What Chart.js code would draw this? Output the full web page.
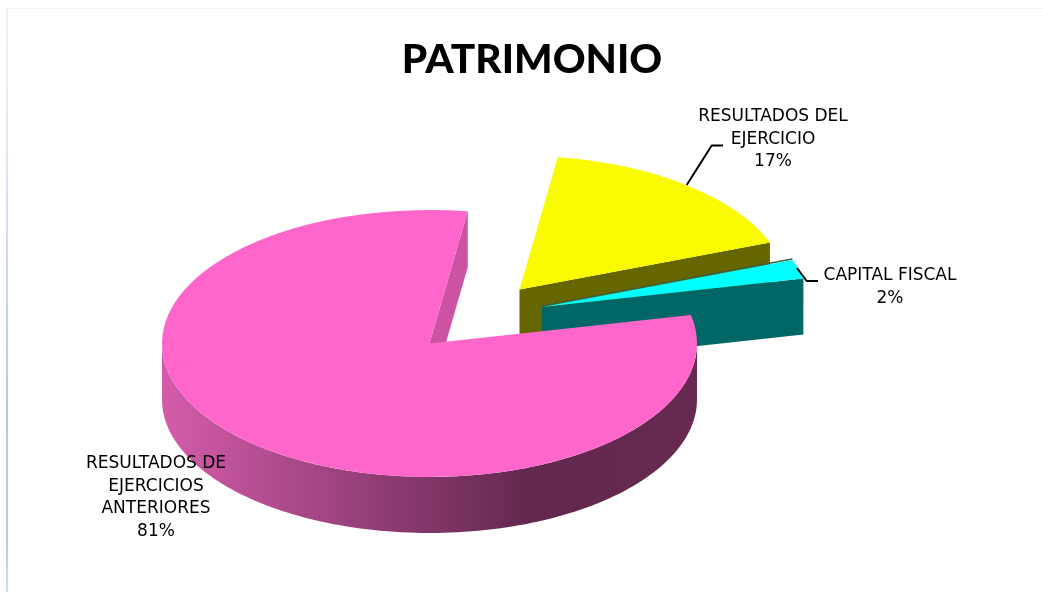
<!DOCTYPE html>
<html>
<head>
<meta charset="utf-8">
<style>
html,body{margin:0;padding:0;background:#fff;width:1042px;height:592px;overflow:hidden}
#wrap{position:relative;width:1042px;height:592px}
#frameL{position:absolute;left:6px;top:8px;width:2px;height:584px;background:linear-gradient(#eef2fa,#e2eaf6 20%,#b4c8e8 68%,#b6cbe8 92%,#cfe0ee)}
#frameT{position:absolute;left:6px;top:8px;width:1036px;height:1px;background:#f3f5fb}
canvas{position:absolute;left:0;top:0}
</style>
<script src="https://cdn.jsdelivr.net/npm/chart.js@4"></script>
</head>
<body>
<div id="wrap"><div id="frameL"></div><div id="frameT"></div><canvas id="c" width="1042" height="592"></canvas></div>
<script>
const chartTitle = 'PATRIMONIO';
const categories = ['RESULTADOS DE EJERCICIOS ANTERIORES', 'RESULTADOS DEL EJERCICIO', 'CAPITAL FISCAL'];
const shareValues = [80.7, 17, 2.3];
const labelLines = [['RESULTADOS DE', 'EJERCICIOS', 'ANTERIORES'], ['RESULTADOS DEL', 'EJERCICIO'], ['CAPITAL FISCAL']];
const topColors = ['#FF66CC', '#FAFA00', '#00FFFF'];
const sideColors = ['#CC52A3', '#666600', '#006666'];

const CX = 429.5, CY = 343.5, RX = 267.5, RY = 133.5, DEPTH = 56;
const sliceShift = [[0, 0], [90, -54], [112.5, -36.5]];
const labelCenter = [[156, 463.5], [773, 116.5], [890, 275.5]];
const LINE_H = 22.7;
const leaders = [null, [[686.7, 185], [711.7, 145.5], [723, 145.5]], [[797, 268], [806.7, 281], [818, 281]]];
const LABEL_FONT = '17px "DejaVu Sans"';

function px(i, a, r) { return [CX + sliceShift[i][0] + Math.cos(a) * RX * r, CY + sliceShift[i][1] + Math.sin(a) * RY * r]; }

function endFace(ctx, i, a) {
  const o = px(i, a, 0), p = px(i, a, 1);
  ctx.fillStyle = sideColors[i];
  ctx.beginPath();
  ctx.moveTo(o[0], o[1]); ctx.lineTo(p[0], p[1]);
  ctx.lineTo(p[0], p[1] + DEPTH); ctx.lineTo(o[0], o[1] + DEPTH);
  ctx.closePath(); ctx.fill();
}

function outerWall(ctx, i, s, e) {
  const from = Math.max(s, 0), to = Math.min(e, Math.PI);
  if (to <= from) return;
  const g = ctx.createLinearGradient(CX - RX, 0, CX + RX, 0);
  g.addColorStop(0, '#D45CAB');
  g.addColorStop(0.68, '#632850');
  g.addColorStop(1, '#67294F');
  ctx.fillStyle = g;
  ctx.beginPath();
  const n = 120;
  for (let k = 0; k <= n; k++) { const p = px(i, from + (to - from) * k / n, 1); k ? ctx.lineTo(p[0], p[1]) : ctx.moveTo(p[0], p[1]); }
  for (let k = n; k >= 0; k--) { const p = px(i, from + (to - from) * k / n, 1); ctx.lineTo(p[0], p[1] + DEPTH); }
  ctx.closePath(); ctx.fill();
}

function topFace(ctx, i, arc) {
  ctx.save();
  ctx.translate(CX + sliceShift[i][0], CY + sliceShift[i][1]);
  ctx.scale(RX / arc.outerRadius, RY / arc.outerRadius);
  ctx.translate(-arc.x, -arc.y);
  arc.draw(ctx);
  ctx.restore();
}

const pie3d = {
  id: 'pie3d',
  beforeDatasetsDraw(chart) {
    const ctx = chart.ctx, arcs = chart.getDatasetMeta(0).data;
    [1, 2, 0].forEach(i => {
      const arc = arcs[i], s = arc.startAngle, e = arc.endAngle;
      endFace(ctx, i, e);
      if (i === 2) {
        const o = px(2, s, 0), p = px(2, s, 1);
        ctx.strokeStyle = '#3C5F3C'; ctx.lineWidth = 1.5;
        ctx.beginPath(); ctx.moveTo(o[0], o[1] - 1); ctx.lineTo(p[0], p[1] - 1); ctx.stroke();
      }
      outerWall(ctx, i, s, e);
      topFace(ctx, i, arc);
    });
    return false;
  },
  afterDraw(chart) {
    const ctx = chart.ctx;
    ctx.save();
    ctx.strokeStyle = '#000'; ctx.lineWidth = 2; ctx.lineJoin = 'round';
    leaders.forEach(l => {
      if (!l) return;
      ctx.beginPath(); l.forEach((p, k) => k ? ctx.lineTo(p[0], p[1]) : ctx.moveTo(p[0], p[1])); ctx.stroke();
    });
    ctx.fillStyle = '#000'; ctx.font = LABEL_FONT; ctx.textAlign = 'center'; ctx.textBaseline = 'middle';
    labelLines.forEach((lines, i) => {
      const all = lines.concat([Math.round(shareValues[i]) + '%']);
      all.forEach((t, k) => ctx.fillText(t, labelCenter[i][0], labelCenter[i][1] + k * LINE_H));
    });
    ctx.restore();
  }
};

new Chart(document.getElementById('c'), {
  type: 'pie',
  data: { labels: categories, datasets: [{ data: shareValues, backgroundColor: topColors, borderWidth: 0 }] },
  options: {
    responsive: false, animation: false, rotation: 77.7,
    layout: { padding: { left: 22, top: 0 } },
    plugins: {
      legend: { display: false }, tooltip: { enabled: false },
      title: { display: true, text: chartTitle, color: '#000', font: { family: 'Lato', size: 40.6, weight: '900' }, padding: { top: 36, bottom: 10 } }
    }
  },
  plugins: [pie3d]
});
</script>
</body>
</html>
